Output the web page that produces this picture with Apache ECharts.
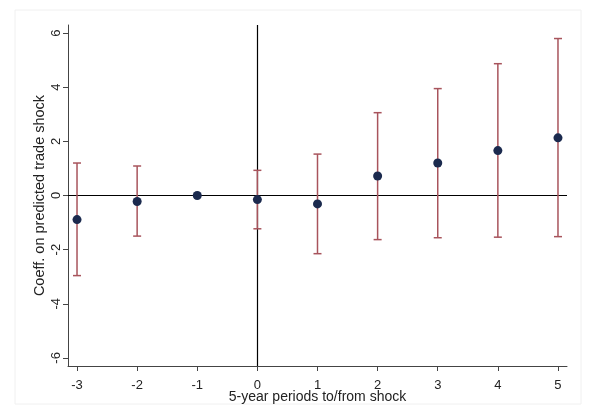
<!DOCTYPE html>
<html><head><meta charset="utf-8">
<script src="https://cdn.jsdelivr.net/npm/echarts@6/dist/echarts.min.js"></script>
<style>html,body{margin:0;padding:0;background:#fff}#c{width:595px;height:406px}</style>
</head><body><div id="c"></div>
<script>
var periods = [-3, -2, -1, 0, 1, 2, 3, 4, 5];
var coef    = [-0.89, -0.22, 0, -0.15, -0.31, 0.72, 1.20, 1.66, 2.13];
var ciLow   = [-2.96, -1.50, null, -1.23, -2.15, -1.63, -1.56, -1.54, -1.52];
var ciHigh  = [1.20, 1.09, null, 0.93, 1.53, 3.06, 3.95, 4.87, 5.80];
var xTicks  = [-3, -2, -1, 0, 1, 2, 3, 4, 5];
var yTicks  = [-6, -4, -2, 0, 2, 4, 6];

var ciData = [];
for (var i = 0; i < periods.length; i++) {
  if (ciLow[i] !== null) ciData.push([periods[i], ciLow[i], ciHigh[i]]);
}
var pts = periods.map(function (p, i) { return [p, coef[i]]; });

var chart = echarts.init(document.getElementById('c'), null, {renderer: 'canvas'});
var font = 'Liberation Sans, Arial, sans-serif';
chart.setOption({
  animation: false,
  backgroundColor: '#fff',
  graphic: [{type: 'rect', shape: {x: 15, y: 10, width: 566, height: 394}, style: {fill: 'none', stroke: '#f0f0f0', lineWidth: 1}, silent: true, z: -10}],
  grid: {left: 68, right: 28, top: 25, bottom: 40, containLabel: false, outerBoundsMode: 'none'},
  xAxis: {
    type: 'value', min: -3.15, max: 5.15,
    name: '5-year periods to/from shock', nameLocation: 'middle', nameGap: 24, nameMoveOverlap: false,
    nameTextStyle: {fontFamily: font, fontSize: 14, color: '#222'},
    axisLine: {onZero: false, lineStyle: {color: '#444', width: 1}},
    axisTick: {show: true, length: 5, lineStyle: {color: '#444'}, customValues: xTicks},
    axisLabel: {fontFamily: font, fontSize: 13, color: '#222', margin: 13, customValues: xTicks},
    splitLine: {show: false}
  },
  yAxis: {
    type: 'value', min: -6.3, max: 6.3,
    name: 'Coeff. on predicted trade shock', nameLocation: 'middle', nameGap: 21, nameMoveOverlap: false,
    nameTextStyle: {fontFamily: font, fontSize: 14.5, color: '#222'},
    axisLine: {show: true, onZero: false, lineStyle: {color: '#444', width: 1}},
    axisTick: {show: true, length: 5, lineStyle: {color: '#444'}, customValues: yTicks},
    axisLabel: {fontFamily: font, fontSize: 13, color: '#222', margin: 5, rotate: 90, customValues: yTicks},
    splitLine: {show: false}
  },
  series: [
    {
      type: 'custom',
      data: ciData,
      encode: {x: 0, y: [1, 2]},
      z: 3,
      renderItem: function (params, api) {
        var x = api.value(0);
        var lo = api.coord([x, api.value(1)]);
        var hi = api.coord([x, api.value(2)]);
        var hw = 4;
        var st = {stroke: '#a8545c', lineWidth: 1.5};
        return {type: 'group', children: [
          {type: 'line', shape: {x1: lo[0], y1: lo[1], x2: hi[0], y2: hi[1]}, style: st},
          {type: 'line', shape: {x1: lo[0] - hw, y1: lo[1], x2: lo[0] + hw, y2: lo[1]}, style: st},
          {type: 'line', shape: {x1: hi[0] - hw, y1: hi[1], x2: hi[0] + hw, y2: hi[1]}, style: st}
        ]};
      }
    },
    {
      type: 'scatter',
      data: pts,
      symbol: 'circle', symbolSize: 9,
      itemStyle: {color: '#1b2a4e', opacity: 1},
      z: 5,
      markLine: {
        silent: true, symbol: 'none', label: {show: false},
        lineStyle: {color: '#000', width: 1.2, type: 'solid'},
        data: [{yAxis: 0}, {xAxis: 0}],
        z: 2
      }
    }
  ]
});
</script></body></html>
